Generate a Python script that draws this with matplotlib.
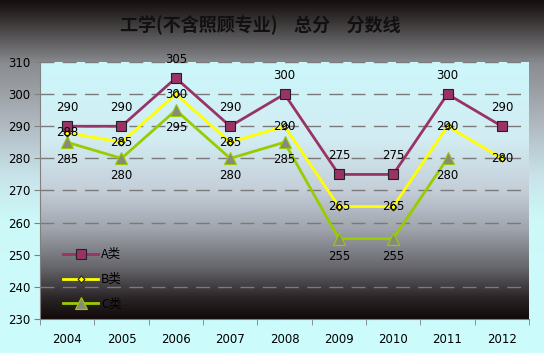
import numpy as np
import matplotlib
matplotlib.use("Agg")
import matplotlib.pyplot as plt
from matplotlib.colors import LinearSegmentedColormap

plt.rcParams['font.family'] = ['Noto Sans CJK SC', 'DejaVu Sans']

years = ['2004', '2005', '2006', '2007', '2008', '2009', '2010', '2011', '2012']
a_vals = [290, 290, 305, 290, 300, 275, 275, 300, 290]
b_vals = [288, 285, 300, 285, 290, 265, 265, 290, 280]
c_vals = [285, 280, 295, 280, 285, 255, 255, 280]
series_names = ['A类', 'B类', 'C类']
title = '工学(不含照顾专业)    总分    分数线'

fig = plt.figure(figsize=(5.44, 3.53), dpi=100)

# figure background gradient
bg = fig.add_axes([0, 0, 1, 1], zorder=-10)
bg_cmap = LinearSegmentedColormap.from_list('bg', [
    (0.0, '#140e0e'), (0.06, '#3a3636'), (0.18, '#8a8c90'),
    (0.35, '#b0b8c0'), (0.5, '#c8e4ea'), (0.62, '#ccf8f8'), (1.0, '#ccfcfc')])
bg.imshow(np.linspace(0, 1, 256).reshape(-1, 1), aspect='auto', cmap=bg_cmap,
          extent=[0, 1, 0, 1], origin='upper')
bg.set_axis_off()

ax = fig.add_axes([40/544, 1-319/353, (529-40)/544, (319-62)/353])
pa_cmap = LinearSegmentedColormap.from_list('pa', [
    (0.0, '#ccf8fb'), (0.3, '#d2ecf2'), (0.5, '#c4ced8'), (0.65, '#a0a4ac'),
    (0.8, '#66666c'), (0.92, '#2a2426'), (1.0, '#120a0a')])
ax.imshow(np.linspace(0, 1, 256).reshape(-1, 1), aspect='auto', cmap=pa_cmap,
          extent=[-0.5, 8.5, 230, 310], origin='upper', zorder=0)

x = np.arange(len(years))
xc = np.arange(len(c_vals))

ax.set_xlim(-0.5, 8.5)
ax.set_ylim(230, 310)
ax.set_yticks(np.arange(230, 311, 10))
for yv in np.arange(240, 311, 10):
    ax.axhline(yv, color='#7a7a7a', lw=1.0, dashes=(10, 6), zorder=1)

ax.plot(x, a_vals, color='#993366', lw=2, marker='s', ms=7, mfc='#993366',
        mec='#222222', mew=0.8, zorder=5, label=series_names[0])
ax.plot(x, b_vals, color='#ffff00', lw=2, marker='D', ms=3.5, mfc='#ffff00',
        mec='#222222', mew=0.8, zorder=4, label=series_names[1])
ax.plot(xc, c_vals, color='#99cc00', lw=2, marker='^', ms=8, mfc='#8a8a7a',
        mec='#99cc00', mew=0.8, zorder=3, label=series_names[2])

fs = 8.5
for xi, v in zip(x, a_vals):
    ax.annotate(str(v), (xi, v), xytext=(0, 9), textcoords='offset points',
                ha='center', va='bottom', fontsize=fs, family='DejaVu Sans', zorder=6)
for xi, v in zip(x, b_vals):
    ax.annotate(str(v), (xi, v), xytext=(0, 0), textcoords='offset points',
                ha='center', va='center', fontsize=fs, family='DejaVu Sans', zorder=6)
for xi, v in zip(xc, c_vals):
    ax.annotate(str(v), (xi, v), xytext=(0, -8), textcoords='offset points',
                ha='center', va='top', fontsize=fs, family='DejaVu Sans', zorder=6)

ax.set_xticks(x)
ax.set_xticklabels(years, fontsize=fs, family='DejaVu Sans')
ax.set_xticks(np.arange(-0.5, 9.0, 1.0), minor=True)
ax.tick_params(axis='x', which='major', length=0, pad=10)
ax.tick_params(axis='x', which='minor', length=4, color='#808080', direction='out')
ax.tick_params(axis='y', length=4, color='#808080', direction='out', labelsize=fs, pad=3)
for lab in ax.get_yticklabels():
    lab.set_family('DejaVu Sans')
for s in ['top', 'right']:
    ax.spines[s].set_visible(False)
ax.spines['left'].set_color('#808080')
ax.spines['bottom'].set_color('#808080')

leg = ax.legend(loc='lower left', bbox_to_anchor=(0.025, -0.012), frameon=False,
                fontsize=9, handlelength=2.8, labelspacing=0.95, handletextpad=0.2)

fig.text(0.478, 0.928, title, ha='center', va='center', fontsize=13,
         fontweight='bold', color='#111111')

fig.savefig('out.png', dpi=100)
